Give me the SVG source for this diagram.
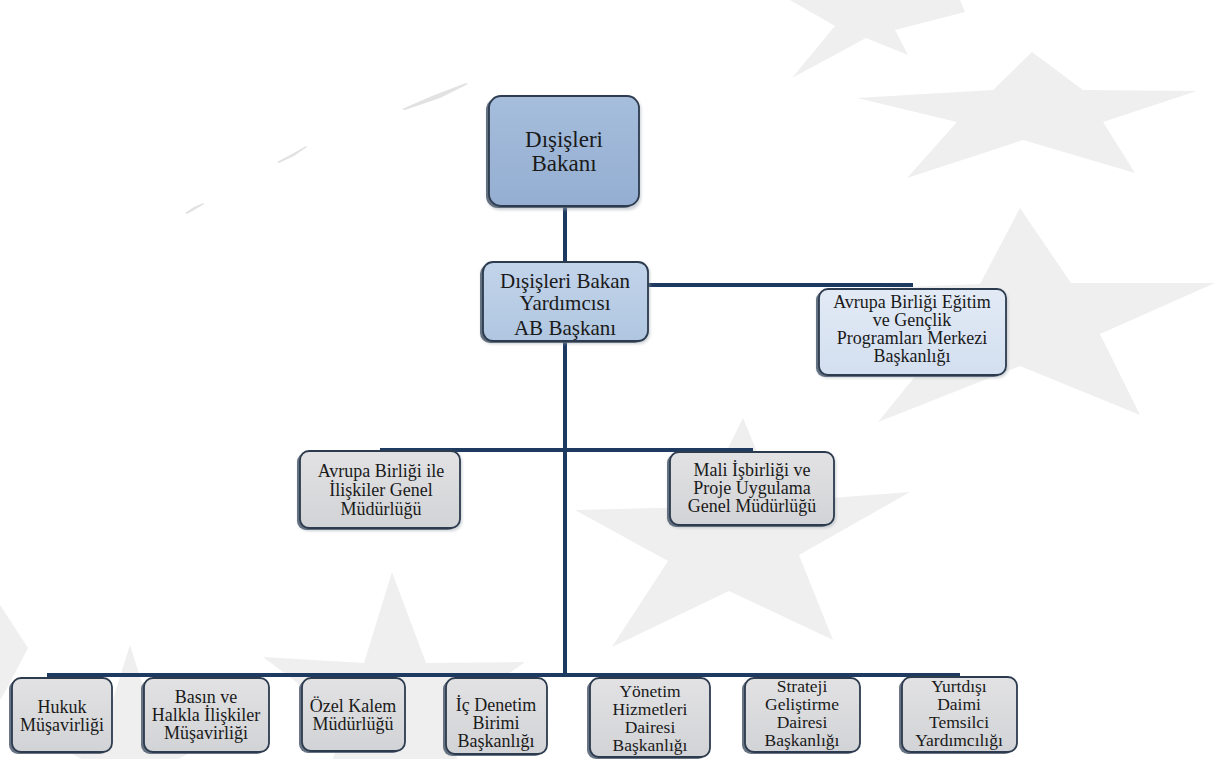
<svg xmlns="http://www.w3.org/2000/svg" width="1226" height="759" viewBox="0 0 1226 759">
<defs>
<linearGradient id="gBlue1" x1="0" y1="0" x2="0" y2="1"><stop offset="0" stop-color="#a6bedc"/><stop offset="1" stop-color="#94aed2"/></linearGradient>
<linearGradient id="gBlue2" x1="0" y1="0" x2="0" y2="1"><stop offset="0" stop-color="#c2d4ea"/><stop offset="1" stop-color="#b0c6e0"/></linearGradient>
<linearGradient id="gBlue3" x1="0" y1="0" x2="0" y2="1"><stop offset="0" stop-color="#e2eaf5"/><stop offset="1" stop-color="#d3dff0"/></linearGradient>
<linearGradient id="gGray" x1="0" y1="0" x2="0" y2="1"><stop offset="0" stop-color="#e2e2e4"/><stop offset="1" stop-color="#d2d3d6"/></linearGradient>
<filter id="soft" x="-10%" y="-10%" width="120%" height="130%"><feGaussianBlur stdDeviation="1.5"/></filter>
</defs>
<style>
.bg{fill:#efefef}
.streak{fill:#e2e2e2}
.con{stroke:#1f3a60;stroke-width:4;fill:none;stroke-linecap:butt}
.shadow{fill:#4f5d6e;opacity:.85}
.halo{fill:#9aa3ad;opacity:.5}
.box{stroke:#2c3b4e;stroke-width:1.8}
.b1{fill:url(#gBlue1)}
.b2{fill:url(#gBlue2)}
.b3{fill:url(#gBlue3)}
.gr{fill:url(#gGray)}
.lbl{font-family:'Liberation Serif','DejaVu Serif',serif;fill:#1a1a1a;text-anchor:middle}
.t23{font-size:23px}
.t21{font-size:21px}
.t18{font-size:18px}
.t17{font-size:17.5px}
</style>
<rect width="1226" height="759" fill="#ffffff"/>
<g id="background">
<polygon class="bg" points="1032,52 1083,90 1197,91 1103,122 1135,173 1023,140 907,178 957,122 857,98 993,90"/>
<polygon class="bg" points="790,0 960,0 965,12 895,30 908,55 866,38 792,78 835,26"/>
<polygon class="bg" points="1020,208 1071,283 1215,283 1100,334 1140,415 1020,366 878,422 947,337 830,290 980,284"/>
<polygon class="bg" points="743,418 778,502 910,492 799,555 833,640 729,591 612,647 668,561 575,510 699,507"/>
<polygon class="bg" points="392,572 426,663 525,662 445,719 474,814 395,760 316,814 345,719 263,657 364,663"/>
<polygon class="bg" points="130,645 152,715 240,724 168,765 92,765 20,724 108,715"/>
<polygon class="bg" points="0,605 28,648 6,690 0,700"/>
<polygon class="streak" points="402,109 432,96 466,83 468,84 440,98 405,110"/>
<polygon class="streak" points="277,162 292,154 306,146 307,147 294,156 279,163"/>
<polygon class="streak" points="185,213 194,207 203,203 204,204 196,209 187,214"/>
</g>
<g id="connectors">
<line class="con" x1="565" y1="206" x2="565" y2="262"/>
<line class="con" x1="565" y1="341" x2="565" y2="677"/>
<line class="con" x1="648" y1="285" x2="913" y2="285"/>
<line class="con" x1="380" y1="450" x2="753" y2="450"/>
<line class="con" x1="47" y1="675" x2="960" y2="675"/>
</g>
<g id="n1">
<rect class="halo" x="487" y="97" width="154" height="113" rx="13" filter="url(#soft)"/>
<rect class="shadow" x="486" y="98" width="150" height="110" rx="12"/>
<rect class="box b1" x="489" y="96" width="150" height="110" rx="12"/>
<text class="lbl t23" x="564" y="147">Dışişleri</text>
<text class="lbl t23" x="564" y="171">Bakanı</text>
</g>
<g id="n2">
<rect class="halo" x="481" y="263" width="169" height="81" rx="11" filter="url(#soft)"/>
<rect class="shadow" x="480" y="264" width="165" height="79" rx="10"/>
<rect class="box b2" x="483" y="262" width="165" height="79" rx="10"/>
<text class="lbl t21" x="565" y="288">Dışişleri Bakan</text>
<text class="lbl t21" x="565" y="310">Yardımcısı</text>
<text class="lbl t21" x="565" y="335">AB Başkanı</text>
</g>
<g id="n3">
<rect class="halo" x="817" y="290" width="191" height="88" rx="10" filter="url(#soft)"/>
<rect class="shadow" x="816" y="291" width="187" height="86" rx="9"/>
<rect class="box b3" x="819" y="289" width="187" height="86" rx="9"/>
<text class="lbl t18" x="912" y="308">Avrupa Birliği Eğitim</text>
<text class="lbl t18" x="912" y="326">ve Gençlik</text>
<text class="lbl t18" x="912" y="344">Programları Merkezi</text>
<text class="lbl t18" x="912" y="362">Başkanlığı</text>
</g>
<g id="n4">
<rect class="halo" x="298" y="452" width="164" height="79" rx="10" filter="url(#soft)"/>
<rect class="shadow" x="297" y="453" width="160" height="77" rx="9"/>
<rect class="box gr" x="300" y="451" width="160" height="77" rx="9"/>
<text class="lbl t18" x="381" y="477">Avrupa Birliği ile</text>
<text class="lbl t18" x="381" y="496">İlişkiler Genel</text>
<text class="lbl t18" x="381" y="515">Müdürlüğü</text>
</g>
<g id="n5">
<rect class="halo" x="668" y="453" width="168" height="75" rx="10" filter="url(#soft)"/>
<rect class="shadow" x="667" y="454" width="164" height="73" rx="9"/>
<rect class="box gr" x="670" y="452" width="164" height="73" rx="9"/>
<text class="lbl t18" x="752" y="476">Mali İşbirliği ve</text>
<text class="lbl t18" x="752" y="494">Proje Uygulama</text>
<text class="lbl t18" x="752" y="512">Genel Müdürlüğü</text>
</g>
<g id="b1">
<rect class="shadow" x="9" y="680" width="100" height="74" rx="9"/>
<rect class="box gr" x="12" y="678" width="100" height="74" rx="9"/>
<text class="lbl t18" x="62" y="713">Hukuk</text>
<text class="lbl t18" x="62" y="731">Müşavirliği</text>
</g>
<g id="b2">
<rect class="shadow" x="141" y="680" width="125" height="74" rx="9"/>
<rect class="box gr" x="144" y="678" width="125" height="74" rx="9"/>
<text class="lbl t18" x="206" y="703">Basın ve</text>
<text class="lbl t18" x="206" y="721">Halkla İlişkiler</text>
<text class="lbl t18" x="206" y="739">Müşavirliği</text>
</g>
<g id="b3">
<rect class="shadow" x="299" y="680" width="103" height="73" rx="9"/>
<rect class="box gr" x="302" y="678" width="103" height="73" rx="9"/>
<text class="lbl t18" x="353" y="712">Özel Kalem</text>
<text class="lbl t18" x="353" y="730">Müdürlüğü</text>
</g>
<g id="b4">
<rect class="shadow" x="443" y="680" width="101" height="76" rx="9"/>
<rect class="box gr" x="446" y="678" width="101" height="76" rx="9"/>
<text class="lbl t18" x="496" y="711">İç Denetim</text>
<text class="lbl t18" x="496" y="729">Birimi</text>
<text class="lbl t18" x="496" y="747">Başkanlığı</text>
</g>
<g id="b5">
<rect class="shadow" x="587" y="680" width="120" height="79" rx="9"/>
<rect class="box gr" x="590" y="678" width="120" height="79" rx="9"/>
<text class="lbl t17" x="650" y="697">Yönetim</text>
<text class="lbl t17" x="650" y="715">Hizmetleri</text>
<text class="lbl t17" x="650" y="733">Dairesi</text>
<text class="lbl t17" x="650" y="751">Başkanlığı</text>
</g>
<g id="b6">
<rect class="shadow" x="742" y="680" width="115" height="74" rx="9"/>
<rect class="box gr" x="745" y="678" width="115" height="74" rx="9"/>
<text class="lbl t17" x="802" y="692">Strateji</text>
<text class="lbl t17" x="802" y="710">Geliştirme</text>
<text class="lbl t17" x="802" y="728">Dairesi</text>
<text class="lbl t17" x="802" y="746">Başkanlığı</text>
</g>
<g id="b7">
<rect class="shadow" x="899" y="679" width="115" height="75" rx="9"/>
<rect class="box gr" x="902" y="677" width="115" height="75" rx="9"/>
<text class="lbl t17" x="959" y="692">Yurtdışı</text>
<text class="lbl t17" x="959" y="710">Daimi</text>
<text class="lbl t17" x="959" y="728">Temsilci</text>
<text class="lbl t17" x="959" y="746">Yardımcılığı</text>
</g>
</svg>
